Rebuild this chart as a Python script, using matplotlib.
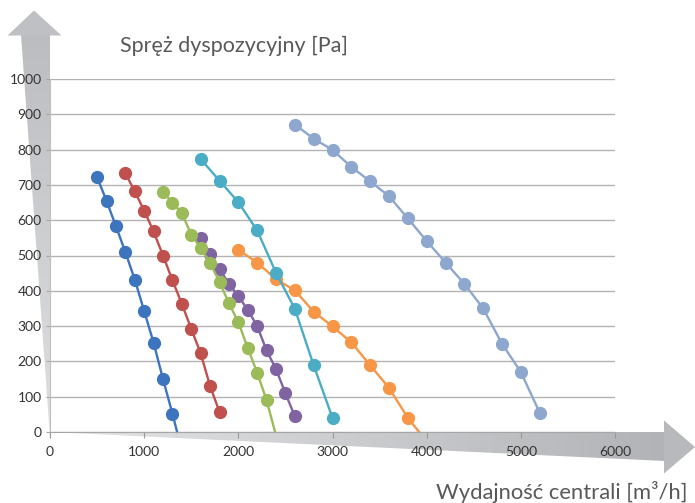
import numpy as np
import matplotlib
matplotlib.use("Agg")
import matplotlib.pyplot as plt
from matplotlib.patches import Polygon

plt.rcParams['font.family'] = ['Lato', 'DejaVu Sans']

# dane
blue_x = [500, 600, 700, 800, 900, 1000, 1100, 1200, 1300, 1350]
blue_y = [722, 655, 583, 510, 432, 343, 253, 150, 52, 0]
red_x = [800, 900, 1000, 1100, 1200, 1300, 1400, 1500, 1600, 1700, 1800]
red_y = [733, 682, 627, 568, 500, 430, 363, 292, 223, 130, 57]
purple_x = [1600, 1700, 1800, 1900, 2000, 2100, 2200, 2300, 2400, 2500, 2600]
purple_y = [550, 503, 462, 420, 385, 346, 300, 231, 178, 110, 44]
green_x = [1200, 1300, 1400, 1500, 1600, 1700, 1800, 1900, 2000, 2100, 2200, 2300, 2390]
green_y = [680, 650, 620, 559, 521, 479, 425, 365, 311, 238, 168, 90, 0]
orange_x = [2000, 2200, 2400, 2600, 2800, 3000, 3200, 3400, 3600, 3800, 3920]
orange_y = [516, 480, 433, 401, 341, 299, 254, 189, 125, 40, 0]
cyan_x = [1600, 1800, 2000, 2200, 2400, 2600, 2800, 3000]
cyan_y = [773, 712, 651, 571, 451, 349, 189, 40]
lblue_x = [2600, 2800, 3000, 3200, 3400, 3600, 3800, 4000, 4200, 4400, 4600, 4800, 5000, 5200]
lblue_y = [871, 831, 799, 751, 710, 668, 605, 541, 480, 420, 350, 250, 170, 55]

series = [
    (blue_x, blue_y, '#3d74be', True),
    (red_x, red_y, '#c0504d', False),
    (purple_x, purple_y, '#8064a2', False),
    (green_x, green_y, '#9bbb59', True),
    (orange_x, orange_y, '#f79646', True),
    (cyan_x, cyan_y, '#4bacc6', False),
    (lblue_x, lblue_y, '#8ea7cf', False),
]

W, H = 695, 503
fig = plt.figure(figsize=(W / 100, H / 100), dpi=100)

# tlo ze strzalkami (wspolrzedne w pikselach)
bg = fig.add_axes([0, 0, 1, 1])
bg.set_xlim(0, W)
bg.set_ylim(H, 0)
bg.axis('off')


def gradient(ax, pts, c0, c1, vertical):
    poly = Polygon(pts, closed=True, fc='none', ec='none')
    ax.add_patch(poly)
    xs = [p[0] for p in pts]
    ys = [p[1] for p in pts]
    a = np.array(matplotlib.colors.to_rgb(c0))
    b = np.array(matplotlib.colors.to_rgb(c1))
    t = np.linspace(0, 1, 256)
    cols = a[None, :] * (1 - t[:, None]) + b[None, :] * t[:, None]
    if vertical:
        img = cols[:, None, :]
    else:
        img = cols[None, :, :]
    im = ax.imshow(img, extent=(min(xs), max(xs), max(ys), min(ys)),
                   aspect='auto', interpolation='bilinear', zorder=1)
    im.set_clip_path(poly)


# pionowa strzalka
gradient(bg, [(20.7, 35), (50, 35), (50, 437)], '#bcbdc0', '#dfe0e2', True)
bg.add_patch(Polygon([(7.5, 35.5), (34, 10.5), (61.5, 35.5)], closed=True,
                     fc='#bfc0c3', ec='none', zorder=2))
# pozioma strzalka
gradient(bg, [(50, 432), (664.5, 432), (664.5, 461)], '#e4e5e7', '#b2b3b6', False)
bg.add_patch(Polygon([(664, 420.5), (695, 447), (664, 473.5)], closed=True,
                     fc='#b8b9bc', ec='none', zorder=2))

bg.text(120, 52, 'Spręż dyspozycyjny [Pa]', fontsize=15.5, color='#595959',
        ha='left', va='baseline')
bg.text(687, 499, 'Wydajność centrali [m³/h]', fontsize=15.8, color='#595959',
        ha='right', va='baseline')

ax = fig.add_axes([50 / W, (H - 432) / H, 565 / W, 353 / H])
ax.set_facecolor('none')
ax.set_xlim(0, 6000)
ax.set_ylim(0, 1000)
ax.set_xticks(range(0, 6001, 1000))
ax.set_yticks(range(0, 1001, 100))
ax.grid(axis='y', color='#b3b3b3', lw=1)
ax.set_axisbelow(True)
for s in ['top', 'right']:
    ax.spines[s].set_visible(False)
ax.spines['left'].set_color('#bfbfbf')
ax.spines['bottom'].set_color('#a6a6a6')
ax.tick_params(axis='y', length=3, color='#a6a6a6', pad=3, labelsize=10,
               labelcolor='#333333')
ax.tick_params(axis='x', length=4, color='#999999', pad=6, labelsize=10,
               labelcolor='#333333')

for x, y, c, open_end in series:
    me = list(range(len(x) - 1)) if open_end else None
    ax.plot(x, y, color=c, lw=1.7, marker='o', ms=8.5, mec=c, mfc=c,
            markevery=me, clip_on=False)

fig.savefig('out.png', dpi=100)
